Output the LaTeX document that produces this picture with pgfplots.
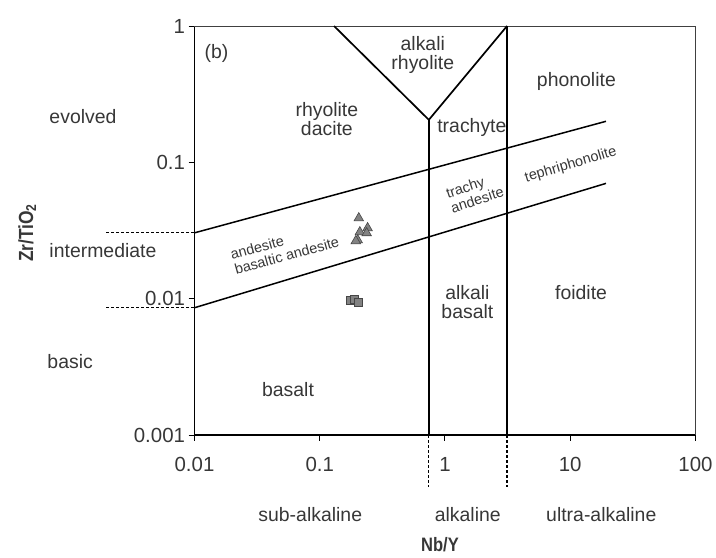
\documentclass[border=0pt]{standalone}
\usepackage{pgfplots}
\pgfplotsset{compat=1.18}
\usepackage{fontspec}
\setmainfont{Liberation Sans}
\definecolor{txt}{RGB}{55,55,55}
\definecolor{mfill}{RGB}{130,130,130}
\definecolor{medge}{RGB}{70,70,70}
\newcommand{\rlfont}{\fontsize{19.5}{18.5}\selectfont}
\newcommand{\smfont}{\fontsize{14.5}{15.5}\selectfont}
\begin{document}
\begin{tikzpicture}
\path[use as bounding box] (-194.5bp,-123bp) rectangle (521.5bp,435bp);
\begin{axis}[
  scale only axis, width=501bp, height=409bp,
  xmode=log, ymode=log,
  xmin=0.01, xmax=100, ymin=0.001, ymax=1,
  axis x line*=bottom, axis y line*=left,
  axis line style={line width=1.5bp, black, -},
  xtick={0.01,0.1,1,10,100}, xticklabels={0.01,0.1,1,10,100},
  ytick={0.001,0.01,0.1,1}, yticklabels={0.001,0.01,0.1,1},
  minor tick length=0pt, minor tick style={draw=none},
  tick align=outside, major tick length=6bp,
  major tick style={line width=1bp, black},
  ticklabel style={font=\fontsize{20.5}{22}\selectfont, text=txt},
  xticklabel style={yshift=-13bp},
  clip=false,
  xlabel={\scalebox{0.85}[1]{Nb/Y}},
  ylabel={\scalebox{0.85}[1]{Zr/TiO\textsubscript{2}}},
  x label style={at={(axis description cs:0.490,-0.268)}, anchor=center,
                 font=\bfseries\fontsize{19.5}{21}\selectfont, text=txt},
  y label style={at={(axis description cs:-0.334,0.494)}, anchor=center,
                 font=\bfseries\fontsize{20.5}{22}\selectfont, text=txt},
]
% frame top and right
\draw[line width=1bp, black!75] (rel axis cs:0,1) -- (rel axis cs:1,1) -- (rel axis cs:1,0);
% V and verticals
\addplot[black, line width=1.7bp] coordinates {(0.13,1) (0.743,0.205) (3.13,1)};
\addplot[black, line width=1.7bp] coordinates {(0.743,0.205) (0.743,0.001)};
\addplot[black, line width=1.7bp] coordinates {(3.13,1) (3.13,0.001)};
% diagonals
\addplot[black, line width=1.5bp] coordinates {(0.01,0.0304) (19.3,0.2)};
\addplot[black, line width=1.5bp] coordinates {(0.01,0.00858) (19.3,0.0701)};
% dashed extensions
\addplot[black, line width=1.2bp, dash pattern=on 3bp off 2bp] coordinates {(0.00197,0.0304) (0.01,0.0304)};
\addplot[black, line width=1.2bp, dash pattern=on 3bp off 2bp] coordinates {(0.00197,0.00858) (0.01,0.00858)};
\addplot[black, line width=1.2bp, dash pattern=on 3bp off 2bp] coordinates {(0.743,0.001) (0.743,0.000417)};
\addplot[black, line width=1.2bp, dash pattern=on 3bp off 2bp] coordinates {(3.13,0.001) (3.13,0.000417)};
% data
\addplot[only marks, mark=triangle*, mark size=5.5bp,
  mark options={fill=mfill, draw=medge, line width=0.6bp}]
  coordinates {(0.205,0.039) (0.241,0.033) (0.209,0.0308) (0.237,0.0303) (0.201,0.0269) (0.194,0.0265)};
\addplot[only marks, mark=square*, mark size=4bp,
  mark options={fill=mfill, draw=medge, line width=0.6bp}]
  coordinates {(0.177,0.00977) (0.190,0.00985) (0.205,0.00936)};
% labels
\node[text=txt, font=\rlfont] at (axis cs:0.0150,0.634) {(b)};
\node[text=txt, font=\rlfont, align=center] at (axis cs:0.665,0.612) {alkali\\rhyolite};
\node[text=txt, font=\rlfont, align=center] at (axis cs:0.114,0.208) {rhyolite\\dacite};
\node[text=txt, font=\rlfont] at (axis cs:11.2,0.395) {phonolite};
\node[text=txt, font=\rlfont] at (axis cs:1.64,0.1815) {trachyte};
\node[text=txt, font=\smfont, rotate=16.5, inner sep=0pt] at (axis cs:10.1,0.0955) {tephriphonolite};
\node[text=txt, font=\smfont, rotate=18, align=left, inner sep=0pt] at (axis cs:1.73,0.0602) {trachy\\andesite};
\node[text=txt, font=\smfont, rotate=15.5, align=left, inner sep=0pt] at (axis cs:0.0525,0.0235) {andesite\\basaltic andesite};
\node[text=txt, font=\rlfont, align=center] at (axis cs:1.51,0.00944) {alkali\\basalt};
\node[text=txt, font=\rlfont] at (axis cs:12.2,0.01117) {foidite};
\node[text=txt, font=\rlfont] at (axis cs:0.0558,0.00216) {basalt};
\node[text=txt, font=\rlfont, anchor=west, inner sep=0pt] at (axis cs:0.000693,0.215) {evolved};
\node[text=txt, font=\rlfont, anchor=west, inner sep=0pt] at (axis cs:0.000693,0.0227) {intermediate};
\node[text=txt, font=\rlfont, anchor=west, inner sep=0pt] at (axis cs:0.000668,0.00348) {basic};
\node[text=txt, font=\rlfont] at (axis cs:0.0840,0.000263) {sub-alkaline};
\node[text=txt, font=\rlfont] at (axis cs:1.52,0.000263) {alkaline};
\node[text=txt, font=\rlfont] at (axis cs:17.7,0.000263) {ultra-alkaline};
\end{axis}
\end{tikzpicture}
\end{document}
